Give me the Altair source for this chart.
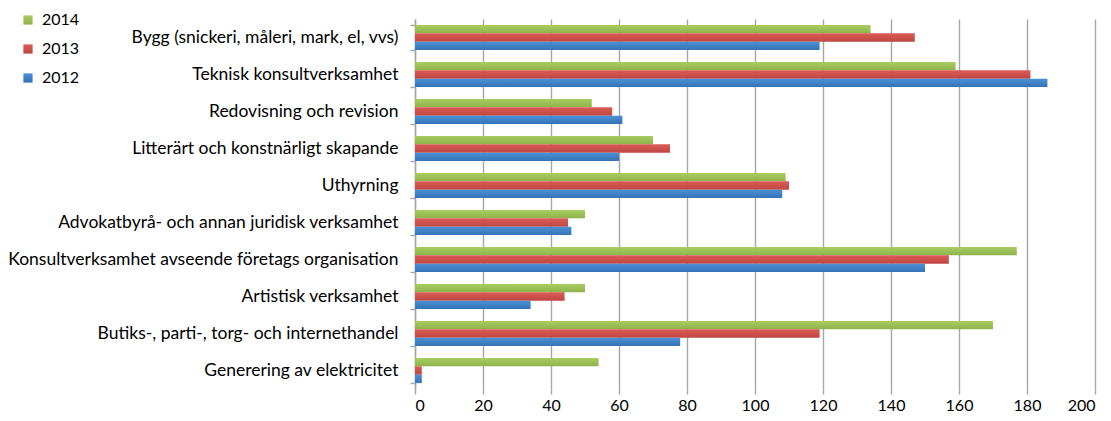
import altair as alt
import pandas as pd

categories = [
    "Bygg (snickeri, måleri, mark, el, vvs)",
    "Teknisk konsultverksamhet",
    "Redovisning och revision",
    "Litterärt och konstnärligt skapande",
    "Uthyrning",
    "Advokatbyrå- och annan juridisk verksamhet",
    "Konsultverksamhet avseende företags organisation",
    "Artistisk verksamhet",
    "Butiks-, parti-, torg- och internethandel",
    "Generering av elektricitet",
]
years = ["2014", "2013", "2012"]
v2014 = [134, 159, 52, 70, 109, 50, 177, 50, 170, 54]
v2013 = [147, 181, 58, 75, 110, 45, 157, 44, 119, 2]
v2012 = [119, 186, 61, 60, 108, 46, 150, 34, 78, 2]
light = ["#AACD62", "#DC5B55", "#4B91D7"]
dark = ["#8DB34B", "#BF4642", "#3572B6"]
x_ticks = list(range(0, 201, 20))

rows = []
for yr, vals in zip(years, [v2014, v2013, v2012]):
    for c, v in zip(categories, vals):
        rows.append({"Kategori": c, "År": yr, "Antal": v})
df = pd.DataFrame(rows)

grad_range = [
    alt.ExprRef(
        "{gradient: 'linear', x1: 0, y1: 0, x2: 0, y2: 1, "
        f"stops: [{{offset: 0, color: '{a}'}}, {{offset: 1, color: '{b}'}}]}}"
    )
    for a, b in zip(light, dark)
]

FONT = "Lato"

chart = alt.Chart(df).mark_bar(size=8.4).encode(
    x=alt.X("Antal:Q",
            scale=alt.Scale(domain=[0, 200], nice=False),
            axis=alt.Axis(values=x_ticks, title=None, domain=False,
                          grid=True, gridColor="#A6A6A6", gridWidth=1.4,
                          tickColor="#A6A6A6", tickSize=5, tickWidth=1.4,
                          labelFont=FONT, labelFontSize=16, labelColor="#000",
                          labelPadding=3)),
    y=alt.Y("Kategori:N", sort=categories,
            scale=alt.Scale(paddingInner=0.32, paddingOuter=0.16),
            axis=alt.Axis(title=None, tickBand="extent", domainColor="#A6A6A6",
                          domainWidth=1.4, tickColor="#A6A6A6", tickWidth=1.4,
                          tickSize=5, labelFont=FONT, labelFontSize=17.5,
                          labelColor="#000", labelPadding=12, labelLimit=0)),
    yOffset=alt.YOffset("År:N", sort=years),
    color=alt.Color("År:N", sort=years,
                    scale=alt.Scale(domain=years, range=grad_range),
                    legend=alt.Legend(title=None, orient="none",
                                      legendX=-395, legendY=-7,
                                      symbolType="square", symbolSize=85,
                                      symbolStrokeWidth=0,
                                      labelFont=FONT, labelFontSize=16,
                                      labelColor="#000", rowPadding=13,
                                      labelOffset=6)),
).properties(
    width=680, height=370,
    autosize=alt.AutoSizeParams(type="none"),
    padding={"left": 407, "top": 11, "right": 2, "bottom": 24},
).configure_view(stroke=None)

chart.save("out.html", embed_options={"renderer": "svg", "actions": False})
